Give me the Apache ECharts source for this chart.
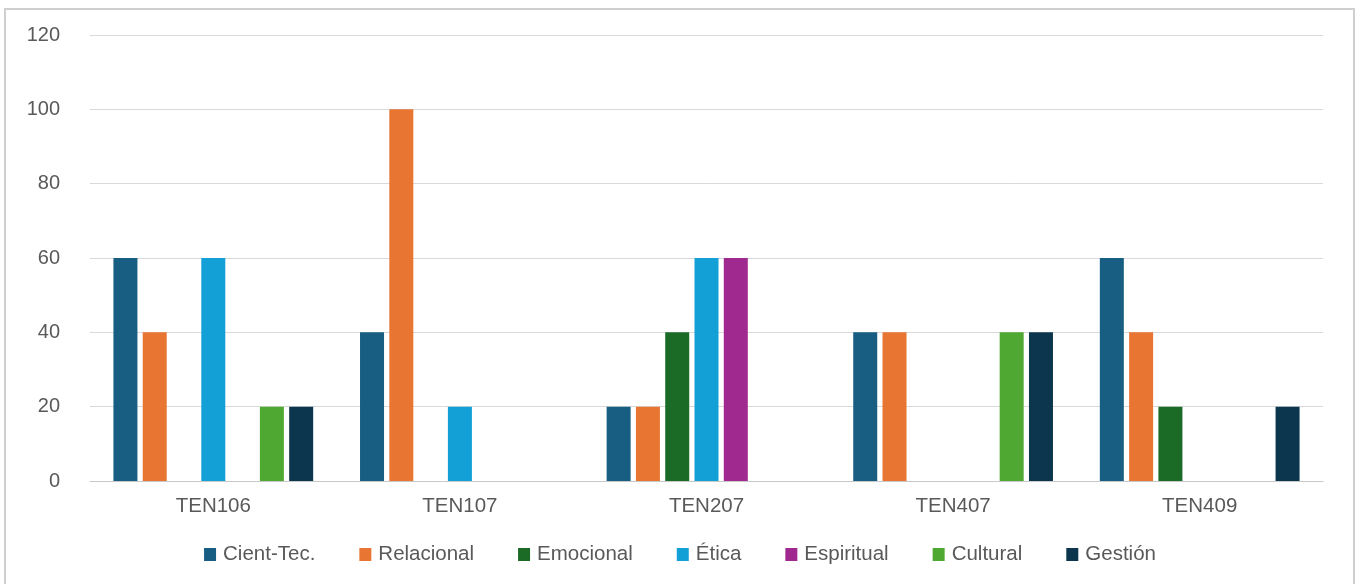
<!DOCTYPE html>
<html>
<head>
<meta charset="utf-8">
<script src="https://cdn.jsdelivr.net/npm/echarts@6/dist/echarts.min.js"></script>
<style>
  html, body { margin: 0; padding: 0; background: #ffffff; }
  #chart { width: 1360px; height: 584px; }
</style>
</head>
<body>
<div id="chart"></div>
<script>
// Courses on the category axis
const categories = ['TEN106', 'TEN107', 'TEN207', 'TEN407', 'TEN409'];

// One array per competence dimension (percent)
const cientTec   = [60, 40, 20, 40, 60];
const relacional = [40, 100, 20, 40, 40];
const emocional  = [0, 0, 40, 0, 20];
const etica      = [60, 20, 60, 0, 0];
const espiritual = [0, 0, 60, 0, 0];
const cultural   = [20, 0, 0, 40, 0];
const gestion    = [20, 0, 0, 40, 20];

const seriesNames = ['Cient-Tec.', 'Relacional', 'Emocional', 'Ética', 'Espiritual', 'Cultural', 'Gestión'];
const seriesData = [cientTec, relacional, emocional, etica, espiritual, cultural, gestion];
const seriesColors = ['#175e82', '#e87532', '#1b6b27', '#12a0d7', '#a0298f', '#4fa832', '#0c364d'];

const textColor = '#595959';
const fontFamily = 'Liberation Sans, Arial, sans-serif';

const chart = echarts.init(document.getElementById('chart'), null, { renderer: 'canvas' });

chart.setOption({
  animation: false,
  backgroundColor: '#ffffff',
  textStyle: { fontFamily: fontFamily },
  graphic: [{
    type: 'rect',
    shape: { x: 5, y: 9, width: 1349, height: 600 },
    style: { fill: 'none', stroke: '#cfcfcf', lineWidth: 2 },
    silent: true
  }],
  grid: { left: 90, right: 37, top: 35, bottom: 103, containLabel: false },
  legend: {
    top: 539,
    left: 'center',
    itemWidth: 12,
    itemHeight: 13,
    itemGap: 44,
    icon: 'rect',
    textStyle: { color: textColor, fontSize: 20.5, fontFamily: fontFamily, padding: [0, 0, 0, 2] },
    data: seriesNames
  },
  xAxis: {
    type: 'category',
    data: categories,
    axisLine: { show: true, lineStyle: { color: '#c8c8c8', width: 1 } },
    axisTick: { show: false },
    axisLabel: { color: textColor, fontSize: 20.5, margin: 15 }
  },
  yAxis: {
    type: 'value',
    min: 0,
    max: 120,
    interval: 20,
    axisLine: { show: false },
    axisTick: { show: false },
    axisLabel: { color: textColor, fontSize: 20, margin: 30 },
    splitLine: { lineStyle: { color: '#d9d9d9', width: 1 } }
  },
  series: seriesNames.map((name, i) => ({
    name: name,
    type: 'bar',
    data: seriesData[i],
    barGap: '22%',
    barCategoryGap: '19%',
    itemStyle: { color: seriesColors[i] }
  }))
});
</script>
</body>
</html>
